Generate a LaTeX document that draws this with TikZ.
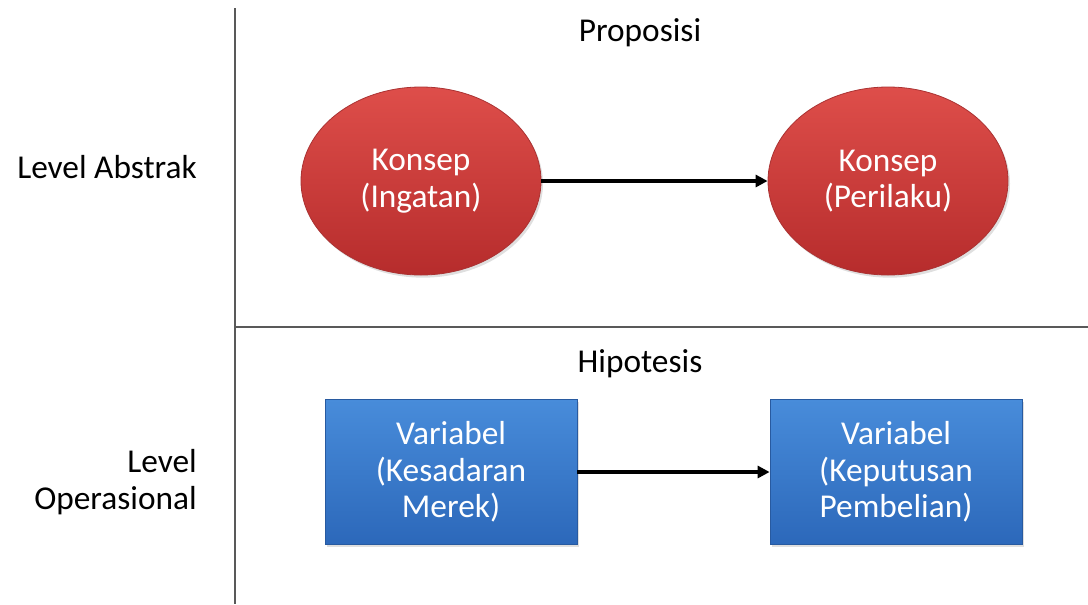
\documentclass[tikz,border=0pt]{standalone}
\usepackage{fontspec}
\setmainfont{Carlito}
\usetikzlibrary{shapes.geometric,arrows.meta,shadows}
\definecolor{konseptop}{RGB}{222,78,74}
\definecolor{konsepbot}{RGB}{182,44,44}
\definecolor{konsepline}{RGB}{170,50,50}
\definecolor{vartop}{RGB}{72,140,218}
\definecolor{varbot}{RGB}{44,104,186}
\definecolor{varline}{RGB}{40,90,160}
\begin{document}
\begin{tikzpicture}[x=0.75pt, y=-0.75pt,
        konsepnode/.style={ellipse, minimum width=180pt, minimum height=141pt, inner sep=0pt,
          top color=konseptop, bottom color=konsepbot, draw=konsepline, line width=0.6pt,
          drop shadow={shadow xshift=1.5pt, shadow yshift=-2pt, opacity=0.25},
          text=white, align=center, font=\fontsize{25}{27.5}\selectfont},
        varnode/.style={rectangle, minimum width=189pt, minimum height=109pt, inner sep=0pt,
          top color=vartop, bottom color=varbot, draw=varline, line width=0.6pt,
          drop shadow={shadow xshift=1.5pt, shadow yshift=-2pt, opacity=0.25},
          text=white, align=center, font=\fontsize{25}{27.5}\selectfont},
        levellbl/.style={anchor=east, align=right, inner sep=0pt, font=\fontsize{25}{27.5}\selectfont},
        headlbl/.style={inner sep=0pt, font=\fontsize{25}{27.5}\selectfont},
        divider/.style={draw=black!65, line width=1.3pt},
        flow/.style={-{Triangle[length=9pt, width=9pt]}, line width=3pt}
      ]
      \useasboundingbox (0,0) rectangle (1088,604);
      % pembagi
      \coordinate (vtop) at (235,8);
      \coordinate (vbot) at (235,604);
      \coordinate (hleft) at (235,327);
      \coordinate (hright) at (1088,327);
      \draw[divider] (vtop) -- (vbot);
      \draw[divider] (hleft) -- (hright);
      % label
      \node[headlbl] (proposisi) at (640,33) {Proposisi};
      \node[headlbl] (hipotesis) at (640,364) {Hipotesis};
      \node[levellbl] (abstrak) at (197,167) {Level Abstrak};
      \node[levellbl] (operasional) at (197,482) {Level\\Operasional};
      % level abstrak
      \node[konsepnode] (ingatan) at (421,181) {Konsep\\(Ingatan)};
      \node[konsepnode] (perilaku) at (888,181) {Konsep\\(Perilaku)};
      % level operasional
      \node[varnode] (kesadaran) at (451,472) {Variabel\\(Kesadaran\\Merek)};
      \node[varnode] (keputusan) at (896,472) {Variabel\\(Keputusan\\Pembelian)};
      \draw[flow] (ingatan) -- (perilaku);
      \draw[flow] (kesadaran) -- (keputusan);
    \end{tikzpicture}
\end{document}
